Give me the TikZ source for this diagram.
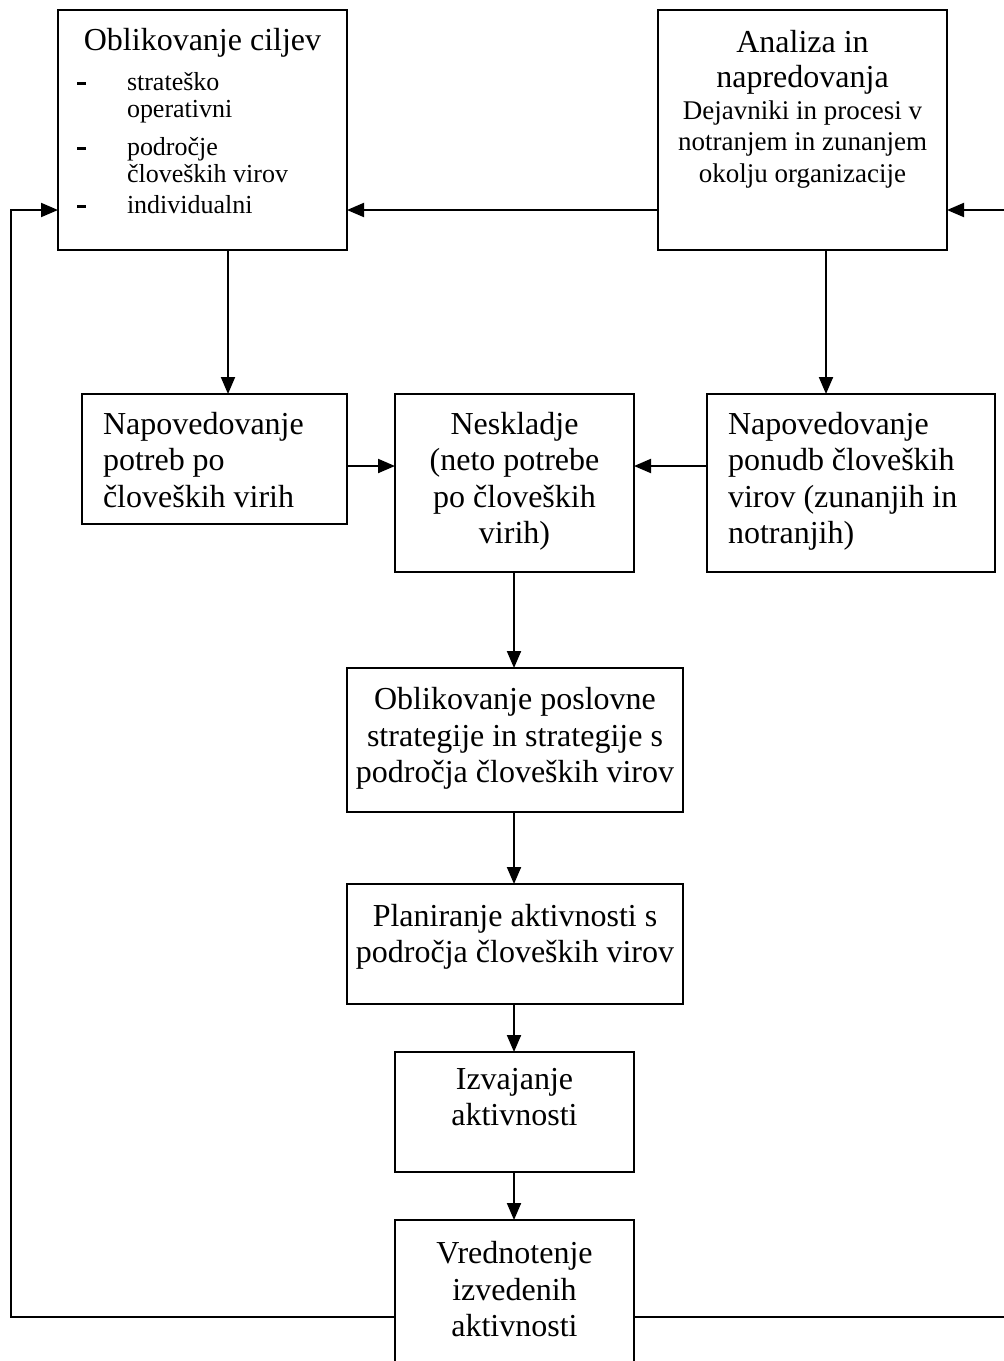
\documentclass[tikz,border=0pt]{standalone}
\usepackage{fontspec}
\setmainfont{Liberation Serif}
\usetikzlibrary{arrows.meta}

% type sizes used in the boxes
\newcommand\bigfont{\fontsize{32}{36.5}\selectfont}
\newcommand\headfont{\fontsize{32}{35}\selectfont}
\newcommand\smallfont{\fontsize{27}{31.5}\selectfont}
\newcommand\listfont{\fontsize{26}{26.5}\selectfont}
% one item of the goal list: dash, then the text
\newcommand\goaldash{\rule[6pt]{9pt}{2.6pt}}
\newcommand\goalitem[1]{\hspace*{19pt}\makebox[50pt][l]{\goaldash}#1}
\newcommand\goalcont[1]{\hspace*{69pt}#1}

\begin{document}
\begin{tikzpicture}[x=1pt,y=-1pt,
  stage/.style={draw, line width=2pt, inner sep=0pt, outer sep=0pt, anchor=north west},
  flow/.style={line width=2pt, -{Triangle[length=17pt,width=14pt]}},
  plain/.style={line width=2pt}]
\useasboundingbox (0,0) rectangle (1004,1361);
\clip (0,0) rectangle (1004,1361);

% ---- boxes ----
\node[stage] (goals) at (58,9.5) {\parbox[t][240pt][t]{289pt}{%
  \vspace*{15pt}%
  {\centering\bigfont\strut Oblikovanje ciljev\par}%
  \vspace{10pt}%
  \raggedright\listfont
  \goalitem{\strut strateško}\\
  \goalcont{operativni}\\[12pt]
  \goalitem{področje}\\
  \goalcont{človeških virov}\\[5pt]
  \goalitem{individualni}\par}};

\node[stage] (analysis) at (658,9.5) {\parbox[t][240pt][t]{289pt}{%
  \vspace*{18pt}\centering
  {\headfont\strut Analiza in\\napredovanja\par}%
  \vspace{0.5pt}%
  {\smallfont Dejavniki in procesi v\\notranjem in zunanjem\\okolju organizacije\par}}};

\node[stage] (demand) at (82,394) {\parbox[t][130pt][t]{265pt}{%
  \vspace*{14.5pt}\raggedright\leftskip=21pt\bigfont
  \strut Napovedovanje\\potreb po\\človeških virih}};

\node[stage] (gap) at (395,394) {\parbox[t][178pt][t]{239pt}{%
  \vspace*{14.5pt}\centering\bigfont
  \strut Neskladje\\(neto potrebe\\po človeških\\virih)}};

\node[stage] (supply) at (707,394) {\parbox[t][178pt][t]{288pt}{%
  \vspace*{14.5pt}\raggedright\leftskip=21pt\bigfont
  \strut Napovedovanje\\ponudb človeških\\virov (zunanjih in\\notranjih)}};

\node[stage] (strategy) at (347,668) {\parbox[t][144pt][t]{336pt}{%
  \vspace*{16pt}\centering\bigfont
  \strut Oblikovanje poslovne\\strategije in strategije s\\področja človeških virov}};

\node[stage] (planning) at (347,884) {\parbox[t][120pt][t]{336pt}{%
  \vspace*{16.5pt}\centering\bigfont
  \strut Planiranje aktivnosti s\\področja človeških virov}};

\node[stage] (execution) at (395,1052) {\parbox[t][120pt][t]{239pt}{%
  \vspace*{11.5pt}\centering\bigfont
  \strut Izvajanje\\aktivnosti}};

\node[stage] (review) at (395,1220) {\parbox[t][200pt][t]{239pt}{%
  \vspace*{18pt}\centering\bigfont
  \strut Vrednotenje\\izvedenih\\aktivnosti}};

% ---- guide coordinates for the connectors ----
\coordinate (topY) at (0,210);
\coordinate (midY) at (0,466);
\coordinate (botY) at (0,1317);
\coordinate (leftX) at (11,0);
\coordinate (goalsX) at (228,0);
\coordinate (analysisX) at (826,0);
\coordinate (axisX) at (514,0);
\coordinate (rightIn) at (1012,210);
\coordinate (rightOut) at (1012,1317);
\coordinate (loopCorner) at (leftX |- botY);

% ---- connectors ----
\draw[flow] (analysis.west |- topY) -- (goals.east |- topY);
\draw[flow] (rightIn) -- (analysis.east |- topY);
\draw[flow] (review.west |- botY) -- (loopCorner) |- (goals.west |- topY);
\draw[plain] (review.east |- botY) -- (rightOut);
\draw[flow] (goals.south -| goalsX) -- (demand.north -| goalsX);
\draw[flow] (analysis.south -| analysisX) -- (supply.north -| analysisX);
\draw[flow] (demand.east |- midY) -- (gap.west |- midY);
\draw[flow] (supply.west |- midY) -- (gap.east |- midY);
\draw[flow] (gap.south -| axisX) -- (strategy.north -| axisX);
\draw[flow] (strategy.south -| axisX) -- (planning.north -| axisX);
\draw[flow] (planning.south -| axisX) -- (execution.north -| axisX);
\draw[flow] (execution.south -| axisX) -- (review.north -| axisX);
\end{tikzpicture}
\end{document}
